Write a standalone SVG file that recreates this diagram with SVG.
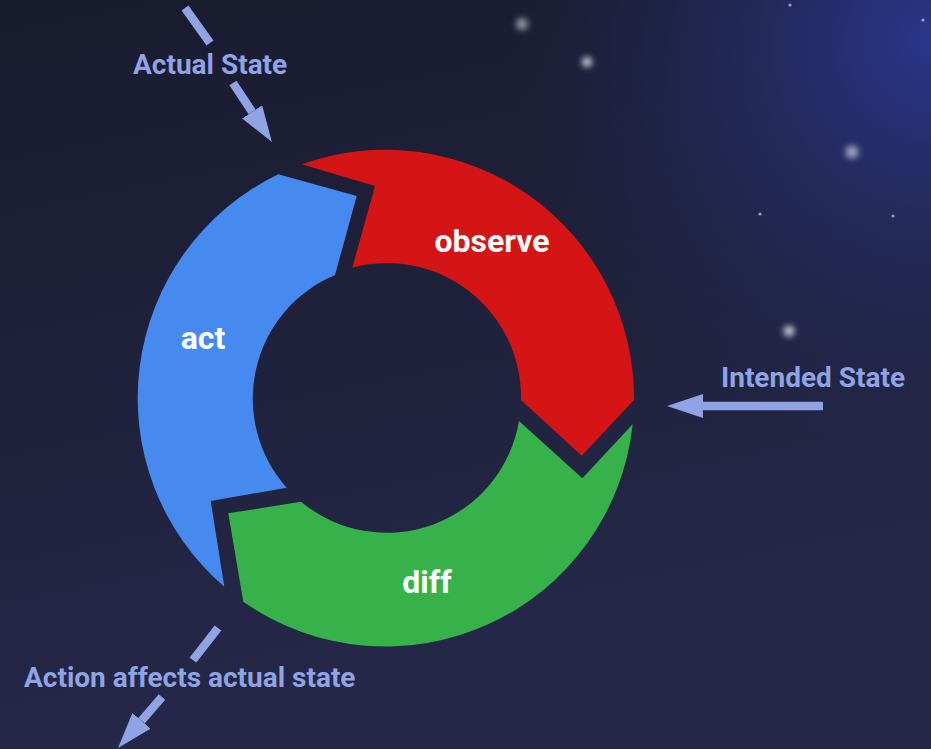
<svg xmlns="http://www.w3.org/2000/svg" width="931" height="749" viewBox="0 0 931 749">
<defs>
<linearGradient id="bg" x1="0" y1="0" x2="0.25" y2="1">
<stop offset="0" stop-color="#191b2e"/>
<stop offset="1" stop-color="#252849"/>
</linearGradient>
<radialGradient id="glow" cx="931" cy="40" r="420" gradientUnits="userSpaceOnUse">
<stop offset="0" stop-color="#2a3790" stop-opacity="0.95"/>
<stop offset="0.45" stop-color="#263173" stop-opacity="0.55"/>
<stop offset="1" stop-color="#232650" stop-opacity="0"/>
</radialGradient>
<filter id="blur" x="-2" y="-2" width="5" height="5"><feGaussianBlur stdDeviation="3"/></filter>
<marker id="ah" viewBox="0 0 36 24" refX="0" refY="12" markerWidth="36" markerHeight="24" orient="auto" markerUnits="userSpaceOnUse">
<path d="M0,0 L36,12 L0,24 Z" fill="#8fa3e5"/>
</marker>
<style>
.lbl{font-family:Roboto,"Liberation Sans",sans-serif;font-weight:700;font-size:28px;fill:#8fa3e5}
.node{font-family:Roboto,"Liberation Sans",sans-serif;font-weight:700;font-size:32px;fill:#ffffff;text-anchor:middle}
.ln{stroke:#8fa3e5;stroke-width:8.5;fill:none}
.star{fill:#e8e8f0}
.dot{fill:#9aa0c8}
</style>
</defs>
<rect width="931" height="749" fill="url(#bg)"/>
<rect width="931" height="749" fill="url(#glow)"/>
<g id="stars">
<circle class="star" cx="522" cy="24" r="6" filter="url(#blur)" opacity="0.6"/>
<circle class="star" cx="587" cy="62" r="5" filter="url(#blur)" opacity="0.9"/>
<circle class="star" cx="852" cy="152" r="6.5" filter="url(#blur)" opacity="0.65"/>
<circle class="star" cx="789" cy="331" r="5.5" filter="url(#blur)" opacity="0.85"/>
<circle class="dot" cx="790" cy="5" r="1.6"/>
<circle class="dot" cx="923" cy="20" r="1.6"/>
<circle class="dot" cx="760" cy="214" r="1.6"/>
<circle class="dot" cx="893" cy="216" r="1.6"/>
</g>
<g id="observe">
<path d="M301.7,164.3 A248.5,248.5 0 0 1 634,400 L581.7,455.7 L521,400 A134,134 0 0 0 352.3,267.7 L375,186 Z" fill="#d51515"/>
<text class="node" x="492" y="252">observe</text>
</g>
<g id="diff">
<path d="M632.7,424.3 A248.5,248.5 0 0 1 243.3,601.7 L228.3,513.3 L301,501.7 A134,134 0 0 0 519,421 L582.3,478.3 Z" fill="#37b24a"/>
<text class="node" x="427" y="593">diff</text>
</g>
<g id="act">
<path d="M224.3,586.7 A248.5,248.5 0 0 1 278.3,174.3 L356.7,196 L335,275 A134,134 0 0 0 286.7,487.7 L210.7,501 Z" fill="#468af0"/>
<text class="node" x="203" y="349">act</text>
</g>
<g id="actual-state">
<text class="lbl" x="133" y="74">Actual State</text>
</g>
<g id="intended-state">
<text class="lbl" x="721" y="387">Intended State</text>
</g>
<g id="action-affects">
<text class="lbl" x="24" y="687">Action affects actual state</text>
</g>
<g id="connectors">
<line class="ln" x1="185" y1="8" x2="210" y2="43"/>
<line class="ln" x1="233" y1="83" x2="252.1" y2="111.9" marker-end="url(#ah)"/>
<line class="ln" x1="823" y1="406" x2="703" y2="406" marker-end="url(#ah)"/>
<line class="ln" x1="218" y1="628" x2="193" y2="660"/>
<line class="ln" x1="162" y1="697" x2="141.5" y2="720.8" marker-end="url(#ah)"/>
</g>
</svg>
